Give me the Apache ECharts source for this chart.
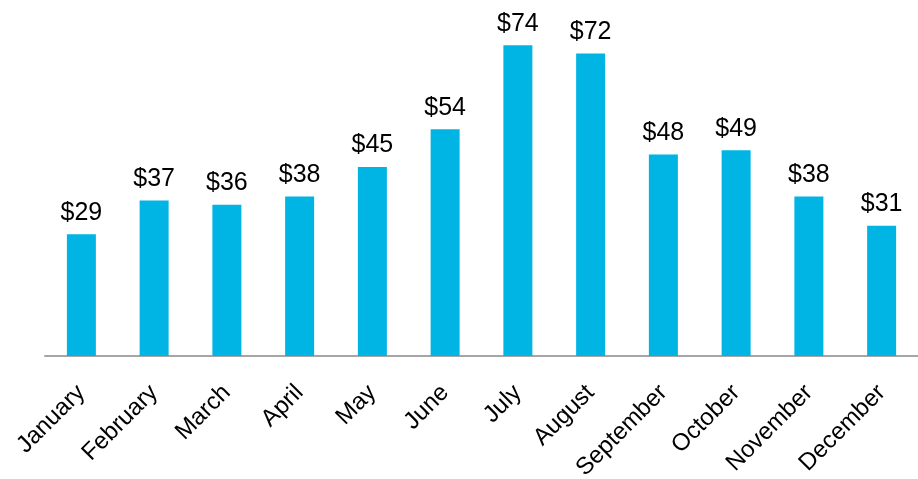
<!DOCTYPE html>
<html>
<head>
<meta charset="utf-8">
<script src="https://cdn.jsdelivr.net/npm/echarts@6/dist/echarts.min.js"></script>
<style>
  html, body { margin: 0; padding: 0; background: #ffffff; }
  #chart { width: 918px; height: 479px; }
</style>
</head>
<body>
<div id="chart"></div>
<script>
// Monthly values shown as dollar amounts above each bar
var months = ['January', 'February', 'March', 'April', 'May', 'June',
              'July', 'August', 'September', 'October', 'November', 'December'];
var values = [29, 37, 36, 38, 45, 54, 74, 72, 48, 49, 38, 31];

var chart = echarts.init(document.getElementById('chart'));
chart.setOption({
  animation: false,
  grid: {
    left: 45, right: 0, top: 20, bottom: 123,
    containLabel: false,
    outerBoundsMode: 'none'
  },
  xAxis: {
    type: 'category',
    data: months,
    axisLine: { lineStyle: { color: '#a6a6a6', width: 2 } },
    axisTick: { show: false },
    axisLabel: {
      rotate: 45,
      interval: 0,
      margin: 33,
      color: '#000000',
      fontFamily: 'Liberation Sans, Arial, sans-serif',
      fontSize: 24
    }
  },
  yAxis: {
    type: 'value',
    min: 0,
    max: 80,
    show: false,
    splitLine: { show: false }
  },
  series: [{
    type: 'bar',
    data: values,
    barWidth: 29,
    itemStyle: { color: '#00b4e4' },
    label: {
      show: true,
      position: 'top',
      distance: 9,
      formatter: function (p) { return '$' + p.value; },
      color: '#000000',
      fontFamily: 'Liberation Sans, Arial, sans-serif',
      fontSize: 25
    }
  }]
});
</script>
</body>
</html>
